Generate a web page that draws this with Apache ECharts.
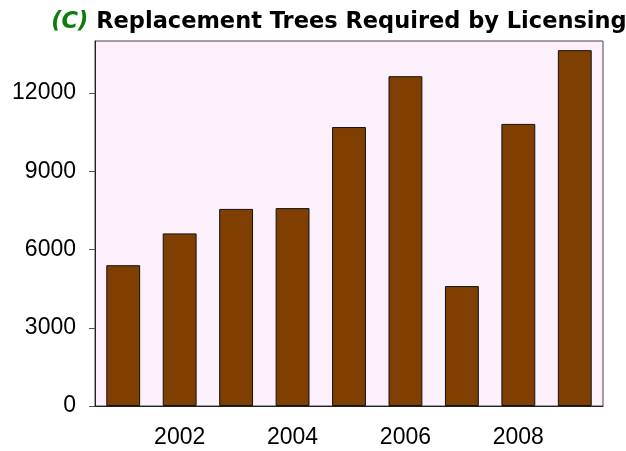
<!DOCTYPE html>
<html><head><meta charset="utf-8">
<script src="https://cdn.jsdelivr.net/npm/echarts@6/dist/echarts.min.js"></script>
<style>html,body{margin:0;padding:0;background:#fff}#c{width:626px;height:451px}</style>
</head><body><div id="c"></div>
<script>
const years = ['2001','2002','2003','2004','2005','2006','2007','2008','2009'];
const trees = [5400, 6620, 7560, 7590, 10700, 12650, 4600, 10820, 13650];
const yTicks = [0, 3000, 6000, 9000, 12000];

const chart = echarts.init(document.getElementById('c'), null, {renderer: 'canvas'});
const evenYear = (i, v) => Number(v) % 2 === 0;
chart.setOption({
  animation: false,
  title: {
    text: '{g|(C)} Replacement Trees Required by Licensing',
    left: 334, textAlign: 'center', top: 6,
    textStyle: {
      fontFamily: 'DejaVu Sans', fontWeight: 'bold', fontSize: 22.5, color: '#000',
      rich: { g: { color: '#0a7d0a', fontFamily: 'DejaVu Sans', fontWeight: 'bold', fontStyle: 'italic', fontSize: 22.5 } }
    }
  },
  grid: {
    left: 95, right: 23, top: 41, bottom: 45,
    show: true, backgroundColor: '#fdf0fd', borderColor: '#444', borderWidth: 1
  },
  xAxis: {
    type: 'category', data: years,
    axisLine: { lineStyle: { color: '#222', width: 1 } },
    axisTick: { alignWithLabel: true, interval: evenYear, length: 6, lineStyle: { color: '#555' } },
    axisLabel: { interval: evenYear, margin: 20, fontFamily: 'Liberation Sans', fontSize: 23, color: '#000' }
  },
  yAxis: {
    type: 'value', min: 0, max: 14000, interval: 3000,
    splitLine: { show: false },
    axisLine: { show: true, lineStyle: { color: '#222', width: 1 } },
    axisTick: { show: true, length: 6, lineStyle: { color: '#555' } },
    axisLabel: { showMaxLabel: false, margin: 19, fontFamily: 'Liberation Sans', fontSize: 23, color: '#000',
      formatter: v => yTicks.includes(v) ? String(v) : '' }
  },
  series: [{
    type: 'bar', data: trees, barWidth: '60%',
    itemStyle: { color: '#7f3f00', borderColor: '#111', borderWidth: 1 }
  }]
});
</script></body></html>
